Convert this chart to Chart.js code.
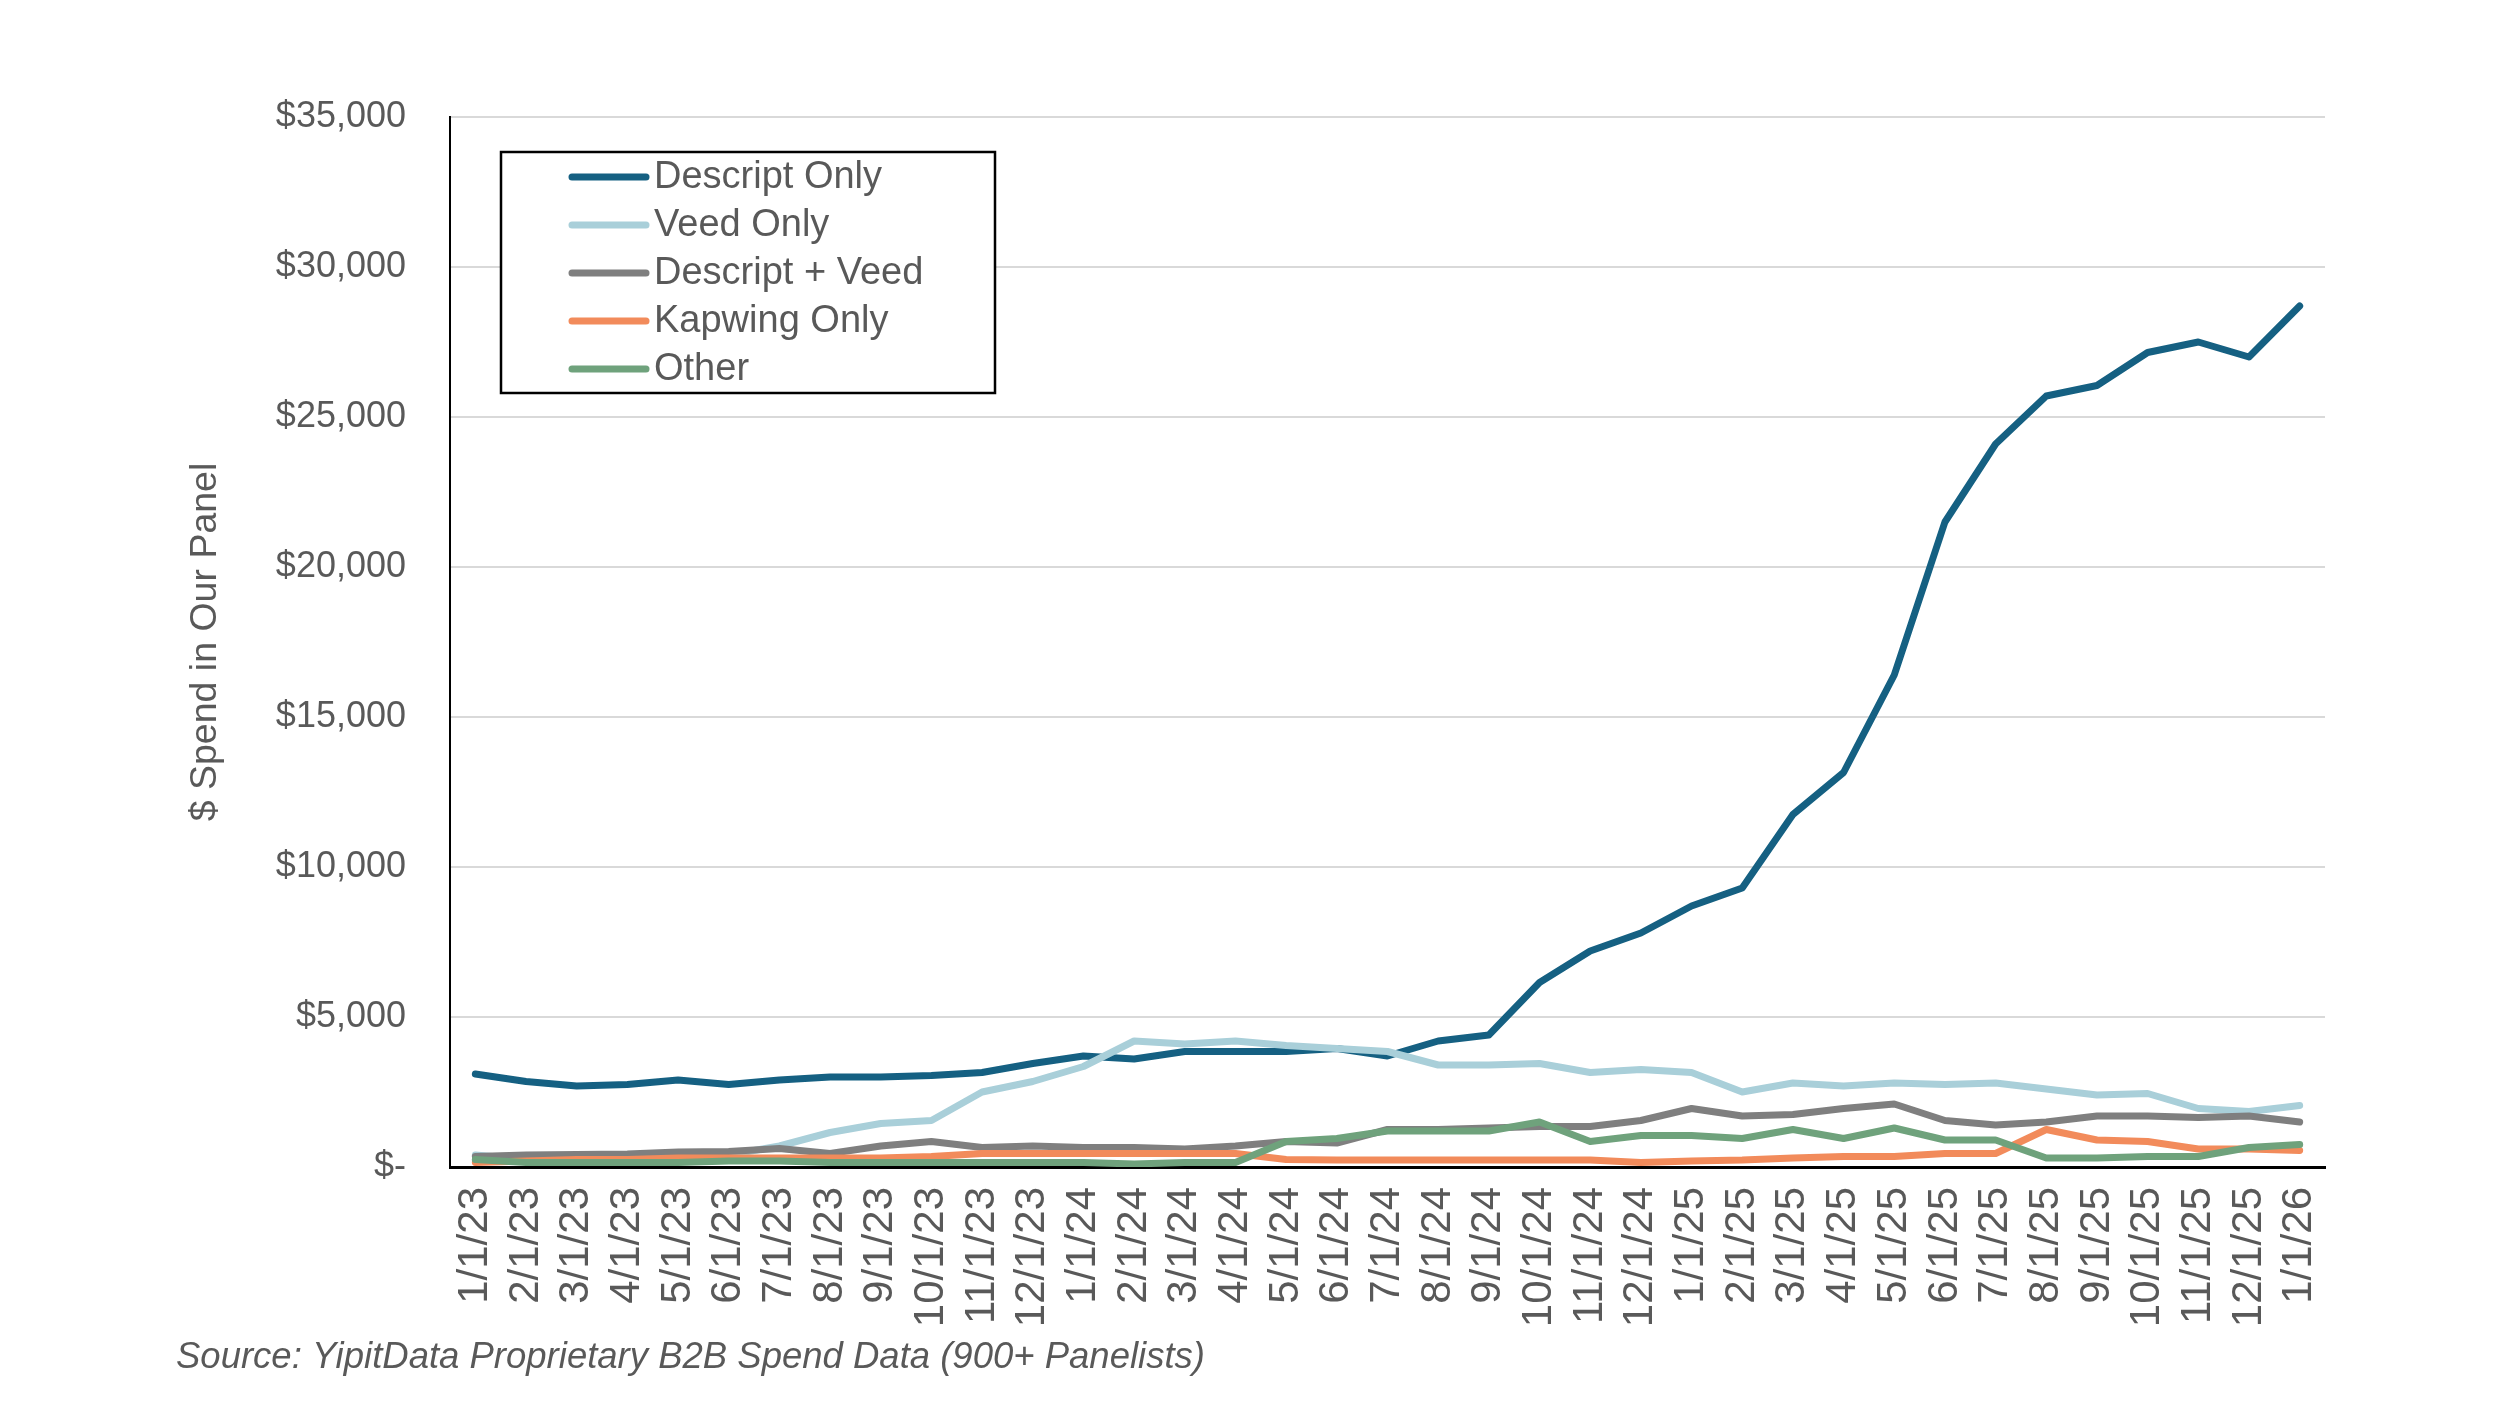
<!DOCTYPE html>
<html>
<head>
<meta charset="utf-8">
<script src="https://cdn.jsdelivr.net/npm/chart.js@4.4.1/dist/chart.umd.min.js"></script>
<style>
  html, body { margin: 0; padding: 0; background: #ffffff; }
  #wrap { width: 2500px; height: 1406px; }
  canvas { display: block; }
</style>
</head>
<body>
<div id="wrap"><canvas id="c" width="2500" height="1406"></canvas></div>
<script>
const categories = [
  '1/1/23','2/1/23','3/1/23','4/1/23','5/1/23','6/1/23','7/1/23','8/1/23','9/1/23','10/1/23','11/1/23','12/1/23',
  '1/1/24','2/1/24','3/1/24','4/1/24','5/1/24','6/1/24','7/1/24','8/1/24','9/1/24','10/1/24','11/1/24','12/1/24',
  '1/1/25','2/1/25','3/1/25','4/1/25','5/1/25','6/1/25','7/1/25','8/1/25','9/1/25','10/1/25','11/1/25','12/1/25',
  '1/1/26'
];
const descriptOnly = [3100,2850,2700,2750,2900,2750,2900,3000,3000,3050,3150,3450,
  3700,3600,3850,3850,3850,3950,3700,4200,4400,6150,7200,7800,
  8700,9300,11750,13150,16400,21500,24100,25700,26050,27150,27500,27000,
  28700];
const veedOnly = [400,250,250,300,350,400,700,1150,1450,1550,2500,2850,
  3350,4200,4100,4200,4050,3950,3850,3400,3400,3450,3150,3250,
  3150,2500,2800,2700,2800,2750,2800,2600,2400,2450,1950,1850,
  2050];
const descriptPlusVeed = [350,400,420,430,500,520,620,450,700,850,650,700,
  650,650,600,700,850,800,1250,1250,1300,1350,1350,1550,
  1950,1700,1750,1950,2100,1550,1400,1500,1700,1700,1650,1700,
  1500];
const kapwingOnly = [150,200,250,250,300,300,300,300,300,350,450,450,
  450,450,450,450,250,230,230,230,230,230,230,150,
  200,230,300,350,350,450,450,1250,900,850,600,600,
  550];
const other = [250,150,150,150,150,200,200,150,150,150,150,150,
  150,100,150,150,850,950,1200,1200,1200,1500,850,1050,
  1050,950,1250,950,1300,900,900,300,300,350,350,650,
  750];
const seriesNames = ['Descript Only','Veed Only','Descript + Veed','Kapwing Only','Other'];
const seriesColors = ['#156082','#A9CFD9','#7F7F7F','#F28B5B','#6FA27C'];
const yTickLabels = ['$-','$5,000','$10,000','$15,000','$20,000','$25,000','$30,000','$35,000'];
const yAxisTitle = '$ Spend in Our Panel';
const sourceNote = 'Source: YipitData Proprietary B2B Spend Data (900+ Panelists)';

const seriesValues = [descriptOnly, veedOnly, descriptPlusVeed, kapwingOnly, other];
const textGray = '#595959';

const datasets = seriesNames.map((name, i) => ({
  label: name,
  data: seriesValues[i],
  borderColor: seriesColors[i],
  backgroundColor: seriesColors[i],
  borderWidth: 7,
  pointRadius: 0,
  pointHoverRadius: 0,
  tension: 0,
  fill: false,
  borderCapStyle: 'round',
  borderJoinStyle: 'round',
  order: seriesNames.length - i
}));

const boxLegend = {
  id: 'boxLegend',
  afterDraw(chart) {
    const ctx = chart.ctx;
    const a = chart.chartArea;
    const bx = a.left + 51, by = a.top + 35, bw = 494, bh = 241;
    ctx.save();
    ctx.fillStyle = '#ffffff';
    ctx.fillRect(bx, by, bw, bh);
    ctx.strokeStyle = '#000000';
    ctx.lineWidth = 2.5;
    ctx.strokeRect(bx, by, bw, bh);
    ctx.font = '38px "Liberation Sans", Arial, sans-serif';
    ctx.textBaseline = 'middle';
    ctx.textAlign = 'left';
    chart.data.datasets.forEach((ds, i) => {
      const y = by + 25 + i * 48;
      ctx.strokeStyle = ds.borderColor;
      ctx.lineWidth = 7;
      ctx.lineCap = 'round';
      ctx.beginPath();
      ctx.moveTo(bx + 71, y);
      ctx.lineTo(bx + 145, y);
      ctx.stroke();
      ctx.fillStyle = textGray;
      ctx.fillText(ds.label, bx + 153, y + 1);
    });
    ctx.font = 'italic 36.5px "Liberation Sans", Arial, sans-serif';
    ctx.fillStyle = textGray;
    ctx.textBaseline = 'middle';
    ctx.fillText(sourceNote, 176, 1358);
    ctx.restore();
  }
};

const bgPlugin = {
  id: 'bg',
  beforeDraw(chart) {
    const ctx = chart.ctx;
    ctx.save();
    ctx.fillStyle = '#ffffff';
    ctx.fillRect(0, 0, chart.width, chart.height);
    ctx.restore();
  }
};

new Chart(document.getElementById('c'), {
  type: 'line',
  data: { labels: categories, datasets },
  options: {
    responsive: false,
    devicePixelRatio: 1,
    animation: false,
    layout: { padding: { left: 183, top: 117, right: 175, bottom: 0 } },
    plugins: {
      legend: { display: false },
      tooltip: { enabled: false },
      title: { display: false }
    },
    scales: {
      x: {
        offset: true,
        grid: { display: false, drawTicks: false },
        border: { display: true, color: '#000000', width: 3 },
        ticks: {
          autoSkip: false,
          minRotation: 90,
          maxRotation: 90,
          padding: 20,
          color: textGray,
          font: { family: '"Liberation Sans Narrow", "Liberation Sans", Arial, sans-serif', size: 42 }
        },
        afterFit(scale) { scale.height = 1406 - 1167; }
      },
      y: {
        min: 0,
        max: 35000,
        grid: { color: '#D9D9D9', lineWidth: 2, drawTicks: false },
        border: { display: true, color: '#000000', width: 2 },
        ticks: {
          stepSize: 5000,
          padding: 44,
          color: textGray,
          font: { family: '"Liberation Sans", Arial, sans-serif', size: 36 },
          callback: (v) => yTickLabels[Math.round(v / 5000)]
        },
        title: {
          display: true,
          text: yAxisTitle,
          color: textGray,
          padding: 0,
          font: { family: '"Liberation Sans", Arial, sans-serif', size: 37.5 }
        },
        afterFit(scale) { scale.width = 450 - 183; }
      }
    }
  },
  plugins: [bgPlugin, boxLegend]
});
</script>
</body>
</html>
